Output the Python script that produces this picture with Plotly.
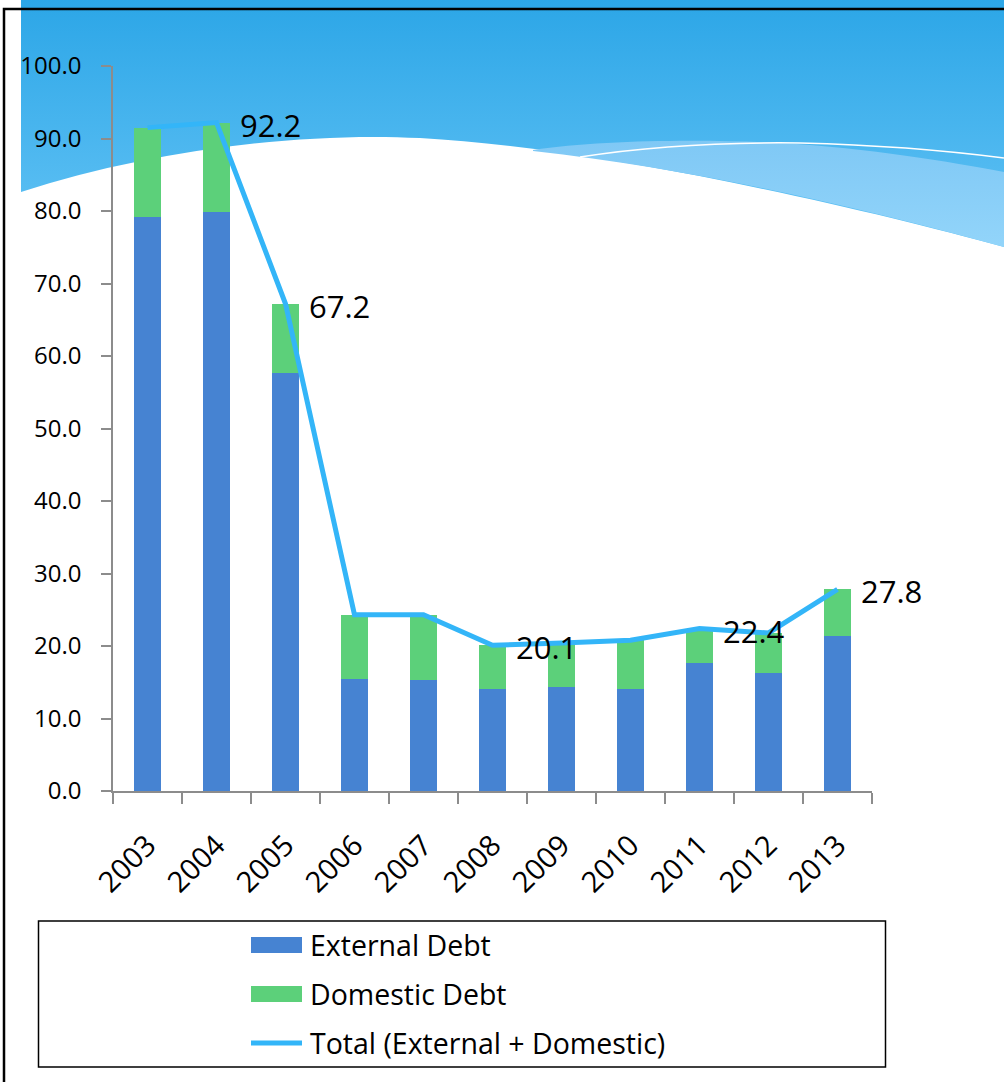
import base64
import plotly.graph_objects as go

# ---- data ----
years = ["2003", "2004", "2005", "2006", "2007", "2008", "2009", "2010", "2011", "2012", "2013"]
external_debt = [79.2, 79.8, 57.6, 15.5, 15.3, 14.1, 14.3, 14.1, 17.6, 16.3, 21.4]
domestic_debt = [12.3, 12.4, 9.6, 8.8, 9.0, 6.0, 6.1, 6.7, 4.8, 5.5, 6.4]
total_debt = [91.5, 92.2, 67.2, 24.3, 24.3, 20.1, 20.4, 20.8, 22.4, 21.8, 27.8]
labelled_years = ["2004", "2005", "2008", "2011", "2013"]
y_ticks = [0, 10, 20, 30, 40, 50, 60, 70, 80, 90, 100]
legend_names = ["External Debt", "Domestic Debt", "Total (External + Domestic)"]

# ---- layout geometry (pixels) ----
W, H = 1004, 1082
PL, PR, PT, PB = 113, 872, 66, 791

def px(x):
    return (x - PL) / (PR - PL)

def py(y):
    return (PB - y) / (PB - PT)

C_EXT = "#4683d2"
C_DOM = "#5cd07a"
C_TOT = "#33b5f8"
FONT = "Open Sans"

fig = go.Figure()
fig.add_trace(go.Bar(x=years, y=external_debt, name=legend_names[0], marker_color=C_EXT,
                     marker_line_width=0, width=0.4, showlegend=False))
fig.add_trace(go.Bar(x=years, y=domestic_debt, name=legend_names[1], marker_color=C_DOM,
                     marker_line_width=0, width=0.4, showlegend=False))
fig.add_trace(go.Scatter(x=years, y=total_debt, name=legend_names[2], mode="lines",
                         line=dict(color=C_TOT, width=5), showlegend=False))

# data labels (x given as category index)
for i, (yr, v) in enumerate(zip(years, total_debt)):
    if yr in labelled_years:
        fig.add_annotation(x=i, y=v, xref="x", yref="y", text=f"{v:.1f}", showarrow=False,
                           xanchor="left", yanchor="middle", xshift=21, yshift=-2,
                           font=dict(family=FONT, size=31, color="black"))

# background (theme wave + frame) as an SVG image
svg = f'''<svg xmlns="http://www.w3.org/2000/svg" width="{W}" height="{H}" viewBox="0 0 {W} {H}">
<defs>
<linearGradient id="g" gradientUnits="userSpaceOnUse" x1="0" y1="0" x2="0" y2="250">
<stop offset="0" stop-color="#2ca6e7"/><stop offset="1" stop-color="#63c3f5"/></linearGradient>
<linearGradient id="l" gradientUnits="userSpaceOnUse" x1="0" y1="140" x2="0" y2="250">
<stop offset="0" stop-color="#7fc8f5"/><stop offset="1" stop-color="#93d5fa"/></linearGradient>
</defs>
<path d="M21,0 L{W},0 L{W},247 C850,205 600,148 420,138 C300,132 150,150 21,192 Z" fill="url(#g)"/>
<path d="M533,150 C600,140 700,139 780,143 C870,148 950,162 {W},172 L{W},247 C850,205 700,170 533,151 Z" fill="url(#l)"/>
<path d="M580,157 C650,146 720,142 800,143 C880,145 950,151 {W},158" fill="none" stroke="white" stroke-width="1.5"/>
<rect x="4" y="9" width="1020" height="1090" fill="none" stroke="black" stroke-width="2.5"/>
</svg>'''
src = "data:image/svg+xml;base64," + base64.b64encode(svg.encode()).decode()
fig.add_layout_image(dict(source=src, xref="paper", yref="paper", x=px(0), y=py(0),
                          sizex=W / (PR - PL), sizey=H / (PB - PT), xanchor="left",
                          yanchor="top", sizing="stretch", layer="below"))

# legend box and entries
shapes = [
    dict(type="rect", xref="paper", yref="paper", x0=px(38.5), x1=px(885.5), y0=py(921), y1=py(1067),
         line=dict(color="black", width=1.5), fillcolor="rgba(0,0,0,0)"),
    dict(type="rect", xref="paper", yref="paper", x0=px(251), x1=px(302), y0=py(937), y1=py(953),
         line=dict(width=0), fillcolor=C_EXT),
    dict(type="rect", xref="paper", yref="paper", x0=px(251), x1=px(302), y0=py(986), y1=py(1002),
         line=dict(width=0), fillcolor=C_DOM),
    dict(type="line", xref="paper", yref="paper", x0=px(251), x1=px(302), y0=py(1043), y1=py(1043),
         line=dict(color=C_TOT, width=5)),
]
for name, yy in zip(legend_names, [945, 994, 1043]):
    fig.add_annotation(xref="paper", yref="paper", x=px(308), y=py(yy), text=name, showarrow=False,
                       xanchor="left", yanchor="middle", font=dict(family=FONT, size=28.5, color="black"))

fig.update_layout(
    width=W, height=H, barmode="stack", bargap=0.6,
    margin=dict(l=PL, r=W - PR, t=PT, b=H - PB, pad=0),
    paper_bgcolor="white", plot_bgcolor="rgba(0,0,0,0)",
    font=dict(family=FONT, color="black"),
    shapes=shapes, showlegend=False,
)
fig.update_xaxes(type="category", range=[-0.5, 10.5], showgrid=False, showline=True,
                 linecolor="#8c8c8c", linewidth=1.5, ticks="outside", tickson="boundaries",
                 ticklen=11, tickcolor="#8c8c8c", tickwidth=1.5, tickangle=-45,
                 tickfont=dict(family=FONT, size=29, color="black"), ticklabelstandoff=24)
fig.update_yaxes(range=[0, 100], tickvals=y_ticks, tickformat=".1f", showgrid=False,
                 zeroline=False, showline=True, linecolor="#8c8c8c", linewidth=1.5,
                 ticks="outside", ticklen=10, tickcolor="#8c8c8c", tickwidth=1.5,
                 tickfont=dict(family=FONT, size=24, color="black"), ticklabelstandoff=15)

fig.write_html("out.html", config={"displayModeBar": False},
               post_script="document.body.style.margin='0';document.body.style.overflow='hidden';")
